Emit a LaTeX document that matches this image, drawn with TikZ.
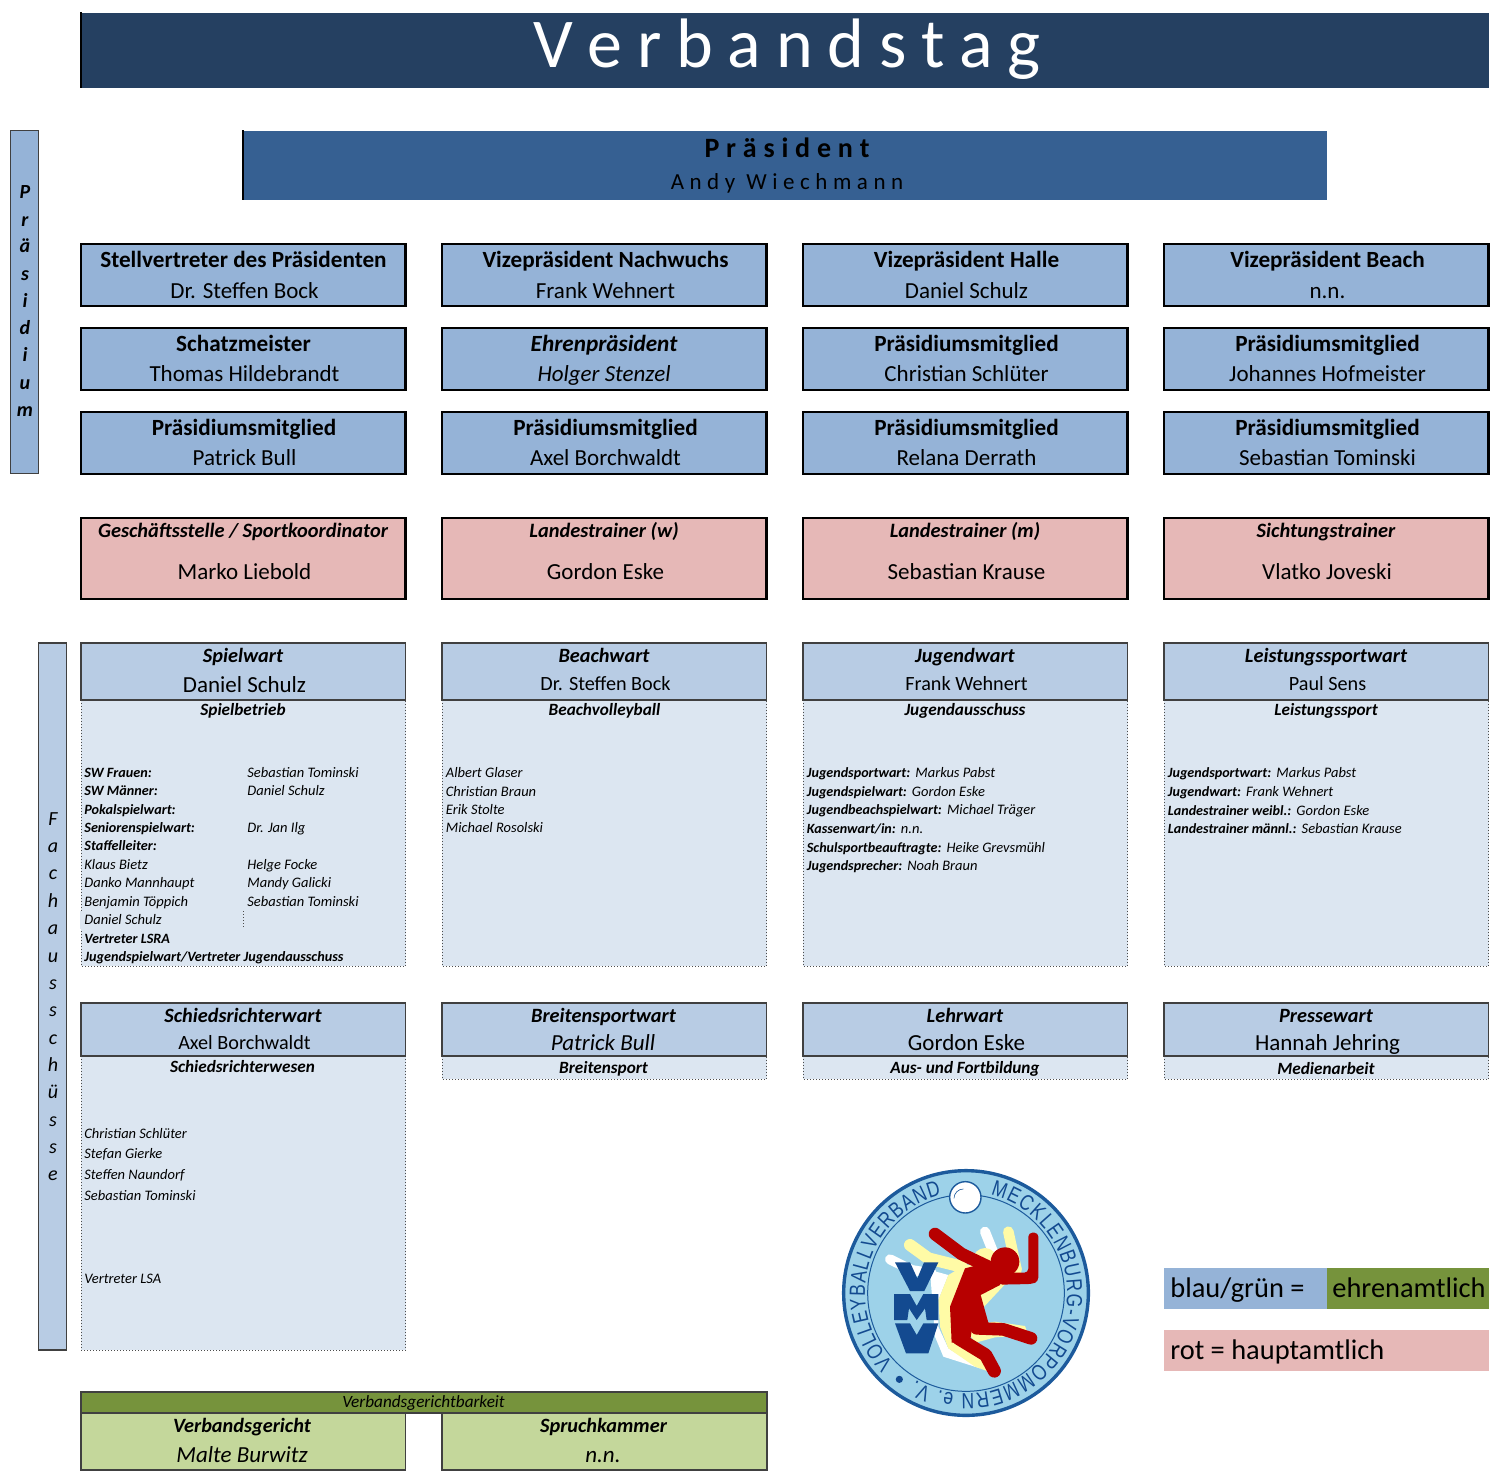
\documentclass[tikz,border=0pt]{standalone}
\usepackage{fontspec}
\setmainfont{Carlito}
\newfontfamily\logofont[FakeStretch=0.8]{Liberation Sans}
\usetikzlibrary{decorations.text}
\definecolor{navy}{HTML}{254061}
\definecolor{pres}{HTML}{366092}
\definecolor{blau}{HTML}{95B3D7}
\definecolor{rot}{HTML}{E6B8B7}
\definecolor{kopf}{HTML}{B8CCE4}
\definecolor{feld}{HTML}{DCE6F1}
\definecolor{gruen}{HTML}{76933C}
\definecolor{hgruen}{HTML}{C4D79B}
\definecolor{lrand}{HTML}{1C5A9C}
\definecolor{lblau}{HTML}{9DD2E9}
\definecolor{lrot}{HTML}{B70000}
\definecolor{lgelb}{HTML}{FFFBA6}
\definecolor{lvmv}{HTML}{134A90}
\newcommand\fsz[1]{\fontsize{#1}{#1}\selectfont}
\newcommand\tc[5]{\node[txt,font=#1] (#2) at (#3,#4) {#5};}
\newcommand\tl[5]{\node[txtl,font=#1] (#2) at (#3,#4) {#5};}
\tikzset{
  txt/.style={anchor=base,inner sep=0pt,text=black},
  txtl/.style={anchor=base west,inner sep=0pt,text=black},
  solidbox/.style={draw=black,line width=1.15pt,fill=#1},
  headbox/.style={draw=black!75,line width=0.6pt,fill=kopf},
  bodybox/.style={draw=black!70,line width=0.5pt,densely dotted,fill=feld},
  framebox/.style={draw=black!75,line width=0.6pt,fill=#1},
}
\newcommand\ttl{\fsz{11.6}\bfseries}
\newcommand\nme{\fsz{11.5}}
\newcommand\rtl{\fsz{10.2}\bfseries\itshape}
\newcommand\fhd{\fsz{10.15}\bfseries\itshape}
\newcommand\fsb{\fsz{8.6}\bfseries\itshape}
\newcommand\smb{\fsz{7.1}\bfseries\itshape}
\newcommand\smi{\fsz{7.25}\itshape}
\newcommand\lbl[1]{{\fsz{7.05}\bfseries #1}\hspace{2.6pt}}
\begin{document}
\begin{tikzpicture}[x=0.5pt,y=-0.5pt]
\useasboundingbox (0,0) rectangle (1500,1483);
% Title
\path[fill=navy] (81,13) rectangle (1489,88);
\draw[line width=1pt,black] (80.5,12) -- (80.5,88);
\node[txt,text=white,font=\fsz{35}] (title) at (787,68) {\spaceskip=7.35pt V e r b a n d s t a g};
% President
\path[fill=pres] (243,131) rectangle (1327,200);
\draw[line width=1pt,black] (243,130) -- (243,200);
\tc{\fsz{14}\bfseries}{prt}{787}{157}{\spaceskip=3.4pt P r ä s i d e n t}
\tc{\fsz{11.5}}{prn}{787}{189}{\spaceskip=2.77pt A n d y~~W i e c h m a n n}
% Vertical bars
\path[framebox=blau] (10.5,130.5) rectangle (38.5,473.5);
\path[framebox=kopf] (38.5,643) rectangle (66.5,1350);
\foreach \c/\y/\n in {P/198/a,r/226/b,ä/252/c,s/280/d,i/307/e,d/334/f,i/361/g,u/389/h,m/416/i}
  \node[txt,font=\fsz{10}\bfseries\itshape] (p\n) at (25,\y) {\c};
\foreach \c/\y/\n in {F/825/a,a/852/b,c/879/c,h/907/d,a/934/e,u/962/f,s/989/g,s/1016/h,c/1044/i,h/1071/j,ü/1098/k,s/1126/l,s/1153/m,e/1180/n}
  \node[txt,font=\fsz{10}\itshape] (f\n) at (53,\y) {\c};
% Boxes
\foreach \x in {81,442,803,1164}{
  \pgfmathsetmacro\xe{\x+324.5}
  \foreach \yy in {244,328,412}{
    \pgfmathsetmacro\ye{\yy+62}
    \path[solidbox=blau] (\x,\yy) rectangle (\xe,\ye);
  }
  \path[solidbox=rot] (\x,518) rectangle (\xe,599);
  \path[bodybox] (\x,700) rectangle (\xe,966);
  \path[headbox] (\x,643) rectangle (\xe,700);
}
\tc{\ttl}{a1}{243.5}{267}{Stellvertreter des Präsidenten}
\tc{\nme}{a2}{244.5}{298}{Dr. Steffen Bock}
\tc{\ttl}{b1}{605.5}{267}{Vizepräsident Nachwuchs}
\tc{\nme}{b2}{605.5}{298}{Frank Wehnert}
\tc{\ttl}{c1}{966.5}{267}{Vizepräsident Halle}
\tc{\nme}{c2}{966.5}{298}{Daniel Schulz}
\tc{\ttl}{d1}{1327.5}{267}{Vizepräsident Beach}
\tc{\nme}{d2}{1327.5}{298}{n.n.}
\tc{\ttl}{e1}{243.5}{351}{Schatzmeister}
\tc{\nme}{e2}{244.5}{381}{Thomas Hildebrandt}
\tc{\ttl\itshape}{f1}{604}{351}{Ehrenpräsident}
\tc{\nme\itshape}{f2}{604}{381}{Holger Stenzel}
\tc{\ttl}{g1}{966.5}{351}{Präsidiumsmitglied}
\tc{\nme}{g2}{966.5}{381}{Christian Schlüter}
\tc{\ttl}{h1}{1327.5}{351}{Präsidiumsmitglied}
\tc{\nme}{h2}{1327.5}{381}{Johannes Hofmeister}
\tc{\ttl}{i1}{244}{435}{Präsidiumsmitglied}
\tc{\nme}{i2}{244.5}{465}{Patrick Bull}
\tc{\ttl}{j1}{605.5}{435}{Präsidiumsmitglied}
\tc{\nme}{j2}{605.5}{465}{Axel Borchwaldt}
\tc{\ttl}{k1}{966.5}{435}{Präsidiumsmitglied}
\tc{\nme}{k2}{966.5}{465}{Relana Derrath}
\tc{\ttl}{l1}{1327.5}{435}{Präsidiumsmitglied}
\tc{\nme}{l2}{1327.5}{465}{Sebastian Tominski}
% Red
\tc{\rtl}{r1}{243}{537}{Geschäftsstelle / Sportkoordinator}
\tc{\nme}{r2}{244.5}{579}{Marko Liebold}
\tc{\rtl}{r3}{604}{537}{Landestrainer (w)}
\tc{\nme}{r4}{605.5}{579}{Gordon Eske}
\tc{\rtl}{r5}{965}{537}{Landestrainer (m)}
\tc{\nme}{r6}{966.5}{579}{Sebastian Krause}
\tc{\rtl}{r7}{1326}{537}{Sichtungstrainer}
\tc{\nme}{r8}{1327}{579}{Vlatko Joveski}
% Fach heads
\tc{\fhd}{s1}{243}{662}{Spielwart}
\tc{\nme}{s2}{244.5}{692}{Daniel Schulz}
\tc{\fsb}{s3}{243}{715.5}{Spielbetrieb}
\tc{\fhd}{t1}{604}{662}{Beachwart}
\tc{\fsz{10.1}}{t2}{605.5}{690}{Dr. Steffen Bock}
\tc{\fsb}{t3}{604.5}{715.5}{Beachvolleyball}
\tc{\fhd}{u1}{965}{662}{Jugendwart}
\tc{\fsz{10.1}}{u2}{966.5}{690}{Frank Wehnert}
\tc{\fsb}{u3}{965}{715.5}{Jugendausschuss}
\tc{\fhd}{v1}{1326}{662}{Leistungssportwart}
\tc{\fsz{10.1}}{v2}{1327.5}{690}{Paul Sens}
\tc{\fsb}{v3}{1326}{715.5}{Leistungssport}
% Spielwart list
\tl{\smb}{q1}{84}{777}{SW Frauen:}
\tl{\smi}{q1b}{247}{777}{Sebastian Tominski}
\tl{\smb}{q2}{84}{795}{SW Männer:}
\tl{\smi}{q2b}{247}{795}{Daniel Schulz}
\tl{\smb}{q3}{84}{814}{Pokalspielwart:}
\tl{\smb}{q4}{84}{832}{Seniorenspielwart:}
\tl{\smi}{q4b}{247}{832}{Dr. Jan Ilg}
\tl{\smb}{q5}{84}{850}{Staffelleiter:}
\tl{\smi}{q6}{84}{869}{Klaus Bietz}
\tl{\smi}{q6b}{247}{869}{Helge Focke}
\tl{\smi}{q7}{84}{887}{Danko Mannhaupt}
\tl{\smi}{q7b}{247}{887}{Mandy Galicki}
\tl{\smi}{q8}{84}{906}{Benjamin Töppich}
\tl{\smi}{q8b}{247}{906}{Sebastian Tominski}
\tl{\smi}{q9}{84}{924}{Daniel Schulz}
\tl{\smb}{q10}{84}{943}{Vertreter LSRA}
\tl{\smb}{q11}{84}{961}{Jugendspielwart/Vertreter Jugendausschuss}
\path[fill=feld] (80,911) rectangle (82,929);
\draw[black!70,line width=0.5pt,densely dotted] (243,911) -- (243,929);
% Beach list
\tl{\smi}{w1}{445.5}{777}{Albert Glaser}
\tl{\smi}{w2}{445.5}{796}{Christian Braun}
\tl{\smi}{w3}{445.5}{814}{Erik Stolte}
\tl{\smi}{w4}{445.5}{832}{Michael Rosolski}
% Jugend list
\tl{\smi}{x1}{806.5}{777}{\lbl{Jugendsportwart:}Markus Pabst}
\tl{\smi}{x2}{806.5}{796}{\lbl{Jugendspielwart:}Gordon Eske}
\tl{\smi}{x3}{806.5}{814}{\lbl{Jugendbeachspielwart:}Michael Träger}
\tl{\smi}{x4}{806.5}{833}{\lbl{Kassenwart/in:}n.n.}
\tl{\smi}{x5}{806.5}{852}{\lbl{Schulsportbeauftragte:}Heike Grevsmühl}
\tl{\smi}{x6}{806.5}{870}{\lbl{Jugendsprecher:}Noah Braun}
% Leistung list
\tl{\smi}{y1}{1167.5}{777}{\lbl{Jugendsportwart:}Markus Pabst}
\tl{\smi}{y2}{1167.5}{796}{\lbl{Jugendwart:}Frank Wehnert}
\tl{\smi}{y3}{1167.5}{815}{\lbl{Landestrainer weibl.:}Gordon Eske}
\tl{\smi}{y4}{1167.5}{833}{\lbl{Landestrainer männl.:}Sebastian Krause}
% Second row
\path[bodybox] (81,1056) rectangle (405.5,1350);
\foreach \x in {442,803,1164}{
  \pgfmathsetmacro\xe{\x+324.5}
  \path[bodybox] (\x,1056) rectangle (\xe,1079);
}
\foreach \x in {81,442,803,1164}{
  \pgfmathsetmacro\xe{\x+324.5}
  \path[headbox] (\x,1003) rectangle (\xe,1056);
}
\tc{\fhd}{m1}{243}{1022}{Schiedsrichterwart}
\tc{\fsz{10.1}}{m2}{244.5}{1049}{Axel Borchwaldt}
\tc{\fsb}{m3}{242.5}{1072.5}{Schiedsrichterwesen}
\tc{\fhd}{n1}{603.5}{1022}{Breitensportwart}
\tc{\nme\itshape}{n2}{603}{1050}{Patrick Bull}
\tc{\fsb}{n3}{603.5}{1073}{Breitensport}
\tc{\fhd}{o1}{965}{1022}{Lehrwart}
\tc{\nme}{o2}{966.5}{1050}{Gordon Eske}
\tc{\fsb}{o3}{965}{1073}{Aus- und Fortbildung}
\tc{\fhd}{z1}{1326}{1022}{Pressewart}
\tc{\nme}{z2}{1327.5}{1050}{Hannah Jehring}
\tc{\fsb}{z3}{1326}{1074}{Medienarbeit}
\tl{\smi}{c1x}{84}{1138}{Christian Schlüter}
\tl{\smi}{c2x}{84}{1158}{Stefan Gierke}
\tl{\smi}{c3x}{84}{1179}{Steffen Naundorf}
\tl{\smi}{c4x}{84}{1200}{Sebastian Tominski}
\tl{\smi}{c5x}{84}{1283}{Vertreter LSA}
% Verbandsgerichtsbarkeit
\path[framebox=gruen] (81,1392) rectangle (767,1413);
\path[framebox=hgruen] (81,1413) rectangle (405.5,1470);
\path[framebox=hgruen] (442,1413) rectangle (767,1470);
\tc{\fsz{8.6}\itshape}{vg}{423.5}{1407}{Verbandsgerichtbarkeit}
\tc{\fhd}{vg1}{242}{1432}{Verbandsgericht}
\tc{\nme\itshape}{vg2}{242}{1462}{Malte Burwitz}
\tc{\fhd}{vg3}{603.5}{1432}{Spruchkammer}
\tc{\nme\itshape}{vg4}{603}{1462}{n.n.}
% Legend
\path[fill=blau] (1164,1268) rectangle (1327,1309);
\path[fill=gruen] (1327,1268) rectangle (1489,1309);
\path[fill=rot] (1164,1330) rectangle (1489,1371);
\tl{\fsz{14.2}}{lg1}{1170}{1297}{blau/grün =}
\tl{\fsz{14.2}}{lg2}{1332}{1297}{ehrenamtlich}
\tl{\fsz{14.2}}{lg3}{1170}{1359}{rot = hauptamtlich}
% Logo
\begin{scope}[shift={(820,1150)},x=0.16667pt,y=-0.16667pt]
  \draw[lrand,line width=1.7pt,fill=lblau] (438,429) circle[radius=367];
  \draw[lrand,line width=0.5pt] (438,429) circle[radius=295];
  \begin{scope}[shift={(195,210)}]
    % white figure
    \draw[white,line width=5pt,line cap=round,line join=round] (15,118) -- (80,150) -- (140,160);
    \draw[white,line width=5pt,line cap=round] (300,35) -- (330,110);
    \path[fill=white] (135,150) -- (190,165) -- (160,240) -- (160,320) -- (190,385) -- (285,445) -- (175,410) -- (150,350) -- cycle;
    % yellow figure
    \draw[lgelb,line width=6pt,line cap=round,line join=round] (75,75) -- (130,115) -- (230,140);
    \draw[lgelb,line width=5.3pt,line cap=round] (370,35) -- (395,150);
    \path[fill=lgelb] (300,120) circle[radius=36];
    \path[fill=lgelb] (190,165) -- (240,135) -- (330,130) -- (400,150) -- (260,300) -- (250,355) -- (290,420) -- (312,455) -- (270,440) -- (190,385) -- (165,320) -- (160,240) -- cycle;
    \path[fill=lgelb] (250,340) -- (262,315) -- (330,305) -- (420,318) -- (430,345) -- (330,352) -- (272,368) -- cycle;
    % VMV
    \path[fill=lvmv] (30,127) -- (75,127) -- (97,175) -- (117,127) -- (160,127) -- (118,213) -- (75,213) -- cycle;
    \path[fill=lvmv] (27,222) -- (75,222) -- (95,258) -- (115,222) -- (160,222) -- (160,300) -- (125,300) -- (120,265) -- (95,300) -- (72,265) -- (67,300) -- (27,300) -- cycle;
    \path[fill=lvmv] (30,310) -- (75,310) -- (95,345) -- (115,310) -- (160,310) -- (130,400) -- (63,400) -- cycle;
    % red figure
    \draw[lrot,line width=6.3pt,line cap=round,line join=round] (150,42) -- (230,102) -- (320,145);
    \path[fill=lrot] (360,125) circle[radius=43];
    \path[fill=lrot] (430,38) [rounded corners=2pt] -- (460,38) -- (460,185) -- (440,192) -- (340,194) -- (340,158) -- (430,158) -- cycle;
    \path[fill=lrot] (240,145) -- (320,125) -- (355,165) -- (345,195) -- (287,225) -- (312,315) -- (262,320) -- (255,365) -- (200,368) -- (195,260) -- cycle;
    \draw[lrot,line width=6.3pt,line cap=round,line join=round] (275,325) -- (355,328) -- (438,355);
    \draw[lrot,line width=6.6pt,line cap=round,line join=round] (220,355) -- (302,405) -- (328,453);
  \end{scope}
  % ball
  \draw[lrand,line width=0.7pt,fill=white] (436,142) circle[radius=47];
  \draw[lrand,line width=0.3pt] (402,145) arc[start angle=180,end angle=270,radius=28];
  \node[fill=lvmv,circle,inner sep=0pt,minimum size=3.6pt] (logodot) at (238,688) {};
  % text on circle
  \path[decorate,decoration={text along path,text align={fit to path},text={|\logofont\fsz{11}\color{lvmv}|VOLLEYBALLVERBAND}}]
    (438,429) ++(-224:303) arc[start angle=-224,end angle=-104,radius=303];
  \path[decorate,decoration={text along path,text align={fit to path},text={|\logofont\fsz{11}\color{lvmv}|MECKLENBURG-VORPOMMERN e. V.}}]
    (438,429) ++(-76:303) arc[start angle=-76,end angle=120,radius=303];
\end{scope}
\end{tikzpicture}
\end{document}
